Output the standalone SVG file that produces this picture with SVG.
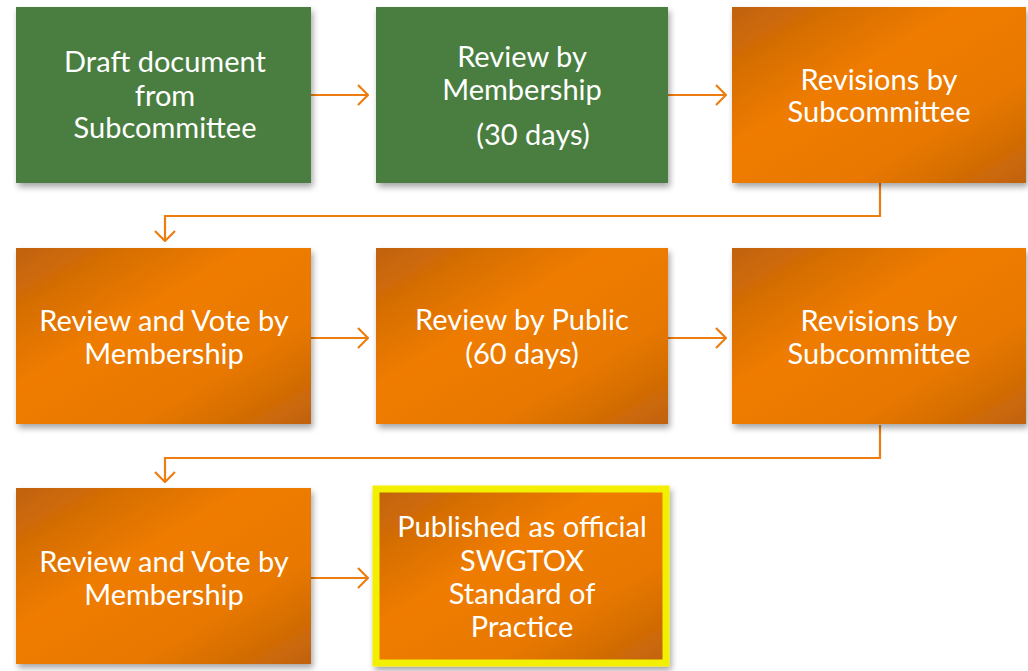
<svg xmlns="http://www.w3.org/2000/svg" width="1028" height="671" viewBox="0 0 1028 671">
<defs>
<linearGradient id="og" x1="0" y1="0" x2="1" y2="1">
<stop offset="0" stop-color="#c0620a"/>
<stop offset="0.4" stop-color="#ef7c00"/>
<stop offset="0.7" stop-color="#e87800"/>
<stop offset="1" stop-color="#c0620a"/>
</linearGradient>
<filter id="sh" x="-10%" y="-10%" width="125%" height="130%">
<feDropShadow dx="2" dy="4" stdDeviation="3" flood-color="#000" flood-opacity="0.35"/>
</filter>
<marker id="ah" viewBox="0 0 12 22" refX="11" refY="11" markerWidth="12" markerHeight="22" markerUnits="userSpaceOnUse" orient="auto">
<path d="M1,1 L11,11 L1,21" fill="none" stroke="#ee7d11" stroke-width="2.2"/>
</marker>
<style>
.g{fill:#4a7e3f;filter:url(#sh)}
.o{fill:url(#og);filter:url(#sh)}
.t{font-family:Lato,"Open Sans",sans-serif;font-size:29px;fill:#fff;text-anchor:middle}
.c{fill:none;stroke:#ee7d11;stroke-width:2.2}
</style>
</defs>
<rect width="1028" height="671" fill="#fff"/>
<g id="connectors">
<path class="c" d="M311,95 H368" marker-end="url(#ah)"/>
<path class="c" d="M668,95 H726" marker-end="url(#ah)"/>
<path class="c" d="M880,183 V216 H165 V241" marker-end="url(#ah)"/>
<path class="c" d="M311,338 H368" marker-end="url(#ah)"/>
<path class="c" d="M668,338 H726" marker-end="url(#ah)"/>
<path class="c" d="M880,425 V458 H165 V482" marker-end="url(#ah)"/>
<path class="c" d="M311,578 H368" marker-end="url(#ah)"/>
</g>
<g id="n1"><rect class="g" x="16" y="7" width="295" height="176"/>
<text class="t" x="165" y="72">Draft document</text><text class="t" x="165" y="106">from</text><text class="t" x="165" y="138">Subcommittee</text></g>
<g id="n2"><rect class="g" x="376" y="7" width="292" height="176"/>
<text class="t" x="522" y="67">Review by</text><text class="t" x="522" y="100">Membership</text><text class="t" x="533" y="145">(30 days)</text></g>
<g id="n3"><rect class="o" x="732" y="7" width="294" height="176"/>
<text class="t" x="879" y="90">Revisions by</text><text class="t" x="879" y="122">Subcommittee</text></g>
<g id="n4"><rect class="o" x="16" y="248" width="295" height="176"/>
<text class="t" x="164" y="331">Review and Vote by</text><text class="t" x="164" y="364">Membership</text></g>
<g id="n5"><rect class="o" x="376" y="248" width="292" height="176"/>
<text class="t" x="522" y="330">Review by Public</text><text class="t" x="522" y="364">(60 days)</text></g>
<g id="n6"><rect class="o" x="732" y="248" width="294" height="176"/>
<text class="t" x="879" y="331">Revisions by</text><text class="t" x="879" y="364">Subcommittee</text></g>
<g id="n7"><rect class="o" x="16" y="488" width="295" height="176"/>
<text class="t" x="164" y="572">Review and Vote by</text><text class="t" x="164" y="605">Membership</text></g>
<g id="n8"><rect class="o" x="376" y="489" width="290" height="174" stroke="#f2f000" stroke-width="7"/>
<text class="t" x="522" y="537">Published as official</text><text class="t" x="522" y="571">SWGTOX</text><text class="t" x="522" y="604">Standard of</text><text class="t" x="522" y="637">Practice</text></g>
</svg>
